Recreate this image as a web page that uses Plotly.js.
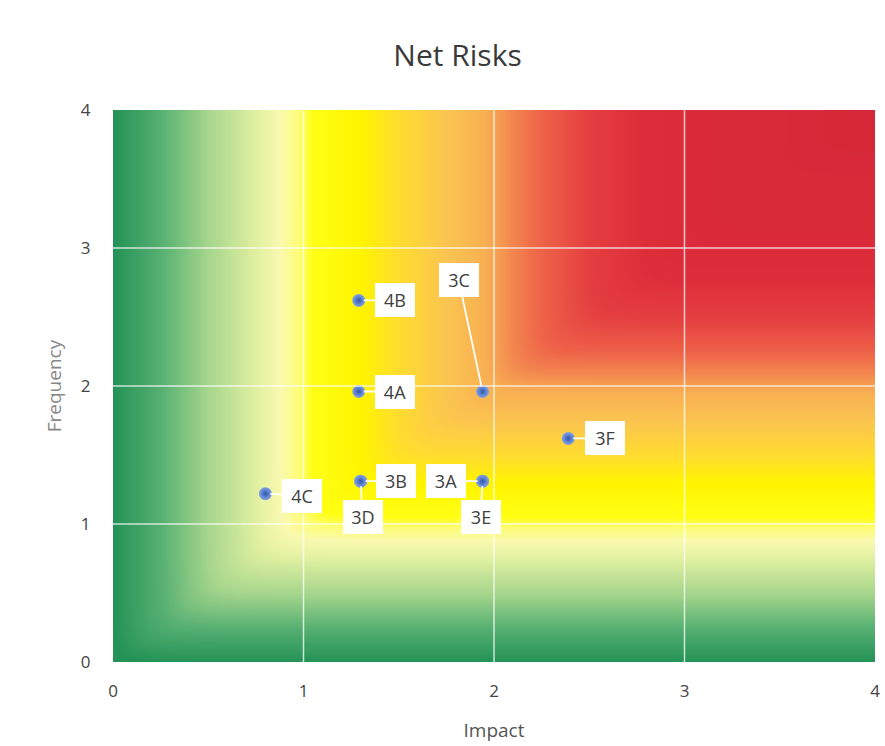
<!DOCTYPE html>
<html>
<head>
<meta charset="utf-8">
<script src="https://cdn.plot.ly/plotly-3.0.1.min.js"></script>
<style>html,body{margin:0;padding:0;background:#fff;}#chart{width:885px;height:746px;}</style>
</head>
<body>
<div id="chart"></div>
<script>
// Risk points
const labels    = ["4B", "4A", "3C", "3F", "4C", "3B", "3D", "3A", "3E"];
const impact    = [1.29, 1.29, 1.94, 2.39, 0.80, 1.30, 1.30, 1.94, 1.94];
const frequency = [2.62, 1.96, 1.96, 1.62, 1.22, 1.31, 1.31, 1.31, 1.31];
// label offsets (px) from the point
const labelDx   = [36, 36, -24, 37, 37, 35, 2, -37, -2];
const labelDy   = [0, 0, -112, 0, 2, 0, 36, 0, 36];

// background gradient colour stops (risk level 0..4, normalised)
const bgStops = [
  [0.0, "#249256"], [0.0625, "#56b072"], [0.125, "#a6d68c"], [0.1875, "#e0f0a0"],
  [0.22, "#f9f9b0"], [0.2425, "#fdfd78"], [0.2625, "#ffff14"], [0.325, "#fff400"],
  [0.375, "#ffdc30"], [0.4375, "#fbc450"], [0.4875, "#f8b052"], [0.525, "#f2844e"],
  [0.5625, "#ee6248"], [0.625, "#e43e40"], [0.7, "#dd2c3a"], [1.0, "#d42838"]
];

// background grid (soft minimum of impact and frequency)
const gx = [], gy = [];
for (let i = 0; i <= 80; i++) { gx.push(i * 0.05); gy.push(i * 0.05); }
const k = 0.07;
const gz = gy.map(yv => gx.map(xv => -k * Math.log(Math.exp(-xv / k) + Math.exp(-yv / k))));

const bg = {
  type: "heatmap", x: gx, y: gy, z: gz, zmin: 0, zmax: 4,
  colorscale: bgStops, showscale: false, zsmooth: "best", hoverinfo: "skip"
};

const pts = {
  type: "scatter", mode: "markers", x: impact, y: frequency, text: labels,
  marker: { size: 13, color: "#86a4e6", gradient: { type: "radial", color: "#2f58b0" },
            line: { width: 0 } },
  hoverinfo: "text", showlegend: false
};

const annotations = labels.map((t, i) => ({
  x: impact[i], y: frequency[i], xref: "x", yref: "y", text: t,
  showarrow: true, arrowhead: 0, arrowwidth: 1.8, arrowcolor: "#ffffff",
  ax: labelDx[i], ay: labelDy[i], standoff: 5,
  width: 32, height: 26,
  bgcolor: "#ffffff", bordercolor: "#ffffff", borderpad: 3,
  font: { family: "Open Sans, sans-serif", size: 18, color: "#404040" }
}));

const shapes = [];
[1, 2, 3].forEach(v => {
  shapes.push({ type: "line", xref: "x", yref: "paper", x0: v, x1: v, y0: 0, y1: 1,
                line: { color: "rgba(255,255,255,0.75)", width: 1.5 }, layer: "above" });
  shapes.push({ type: "line", xref: "paper", yref: "y", x0: 0, x1: 1, y0: v, y1: v,
                line: { color: "rgba(255,255,255,0.75)", width: 1.5 }, layer: "above" });
});

const layout = {
  width: 885, height: 746,
  margin: { l: 113, r: 10, t: 110, b: 84 },
  paper_bgcolor: "#ffffff", plot_bgcolor: "#ffffff",
  font: { family: "Open Sans, sans-serif", color: "#404040" },
  title: { text: "Net Risks", x: 0.517, xanchor: "center", y: 0.926, yanchor: "middle",
           font: { size: 30, color: "#3a3a3a", family: "Open Sans, sans-serif" } },
  xaxis: {
    range: [0, 4], tickvals: [0, 1, 2, 3, 4], showgrid: false, zeroline: false,
    ticks: "outside", ticklen: 14, tickcolor: "rgba(0,0,0,0)",
    tickfont: { size: 17, color: "#444" },
    title: { text: "Impact", font: { size: 19, color: "#555" }, standoff: 22 }
  },
  yaxis: {
    range: [0, 4], tickvals: [0, 1, 2, 3, 4], showgrid: false, zeroline: false,
    ticks: "outside", ticklen: 18, tickcolor: "rgba(0,0,0,0)",
    tickfont: { size: 17, color: "#444" },
    title: { text: "Frequency", font: { size: 19, color: "#888" }, standoff: 14 }
  },
  shapes: shapes,
  annotations: annotations,
  showlegend: false
};

Plotly.newPlot("chart", [bg, pts], layout, { displayModeBar: false, staticPlot: true });
</script>
</body>
</html>
